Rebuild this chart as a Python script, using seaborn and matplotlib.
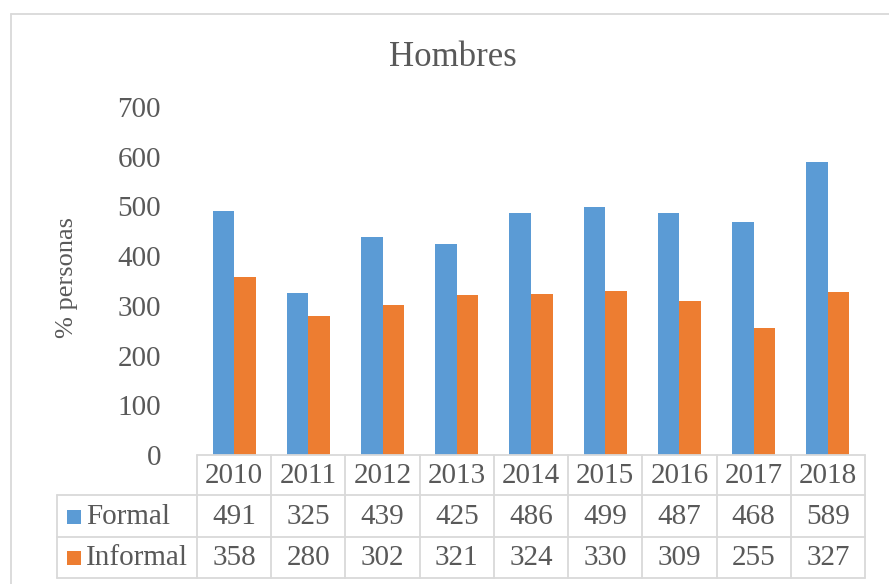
import matplotlib
matplotlib.use("Agg")
import matplotlib.pyplot as plt
from matplotlib.lines import Line2D
from matplotlib.patches import Rectangle
import pandas as pd
import seaborn as sns

years = ["2010", "2011", "2012", "2013", "2014", "2015", "2016", "2017", "2018"]
formal = [491, 325, 439, 425, 486, 499, 487, 468, 589]
informal = [358, 280, 302, 321, 324, 330, 309, 255, 327]
series = ["Formal", "Informal"]
colors = ["#5B9BD5", "#ED7D31"]
y_ticks = [0, 100, 200, 300, 400, 500, 600, 700]

W, H = 889, 584
TXT = "#595959"
GRID = "#D9D9D9"

sns.set_theme(style="white")
plt.rcParams["font.family"] = ["Liberation Serif", "DejaVu Serif"]

df = pd.DataFrame({
    "year": years * 2,
    "value": formal + informal,
    "serie": [series[0]] * len(years) + [series[1]] * len(years),
})

fig = plt.figure(figsize=(W / 100, H / 100), dpi=100)
# plot area in pixels: x 197..865, y 107..455
ax = fig.add_axes([197 / W, 1 - 455 / H, (865 - 197) / W, (455 - 107) / H])

sns.barplot(data=df, x="year", y="value", hue="serie", palette=colors,
            width=0.58, ax=ax, legend=False, saturation=1, edgecolor="none")

ax.set_xlim(-0.5, len(years) - 0.5)
ax.set_ylim(0, 700)
ax.set_yticks(y_ticks)
ax.set_yticklabels([str(t) for t in y_ticks], fontsize=21, color=TXT)
ax.tick_params(axis="y", length=0, pad=26)
ax.set_xticks([])
ax.set_xlabel("")
ax.set_ylabel("")
for s in ax.spines.values():
    s.set_visible(False)

fig.text(67 / W, 1 - 277 / H, "% personas", rotation=90, fontsize=19,
         color=TXT, ha="center", va="center")
fig.text(453 / W, 1 - 57 / H, "Hombres", fontsize=25, color=TXT,
         ha="center", va="center")


def px_line(x0, y0, x1, y1, color=GRID, lw=1.3):
    fig.add_artist(Line2D([x0 / W, x1 / W], [1 - y0 / H, 1 - y1 / H],
                          color=color, lw=lw, transform=fig.transFigure))


# outer chart border (left and top visible)
px_line(11, 14, 900, 14)
px_line(11, 14, 11, 600)

# data table
x_left, x_lab, x_right = 57, 197, 865
rows_y = [455, 495, 537, 578]
col_w = (x_right - x_lab) / len(years)
px_line(x_lab, rows_y[0], x_right, rows_y[0])
for yy in rows_y[1:]:
    px_line(x_left, yy, x_right, yy)
px_line(x_left, rows_y[1], x_left, rows_y[3])
for i in range(len(years) + 1):
    xx = x_lab + i * col_w
    px_line(xx, rows_y[0], xx, rows_y[3])

for i, yr in enumerate(years):
    cx = x_lab + (i + 0.5) * col_w
    fig.text(cx / W, 1 - 476 / H, yr, fontsize=21, color=TXT, ha="center", va="center")
    fig.text(cx / W, 1 - 517 / H, str(formal[i]), fontsize=21, color=TXT,
             ha="center", va="center")
    fig.text(cx / W, 1 - 558 / H, str(informal[i]), fontsize=21, color=TXT,
             ha="center", va="center")

for name, col, cy in zip(series, colors, [517, 558]):
    fig.add_artist(Rectangle((67 / W, 1 - (cy + 7) / H), 14 / W, 14 / H,
                             facecolor=col, edgecolor="none", transform=fig.transFigure))
    fig.text(86 / W, 1 - cy / H, name, fontsize=21, color=TXT, ha="left", va="center")

fig.savefig("out.png", dpi=100)
